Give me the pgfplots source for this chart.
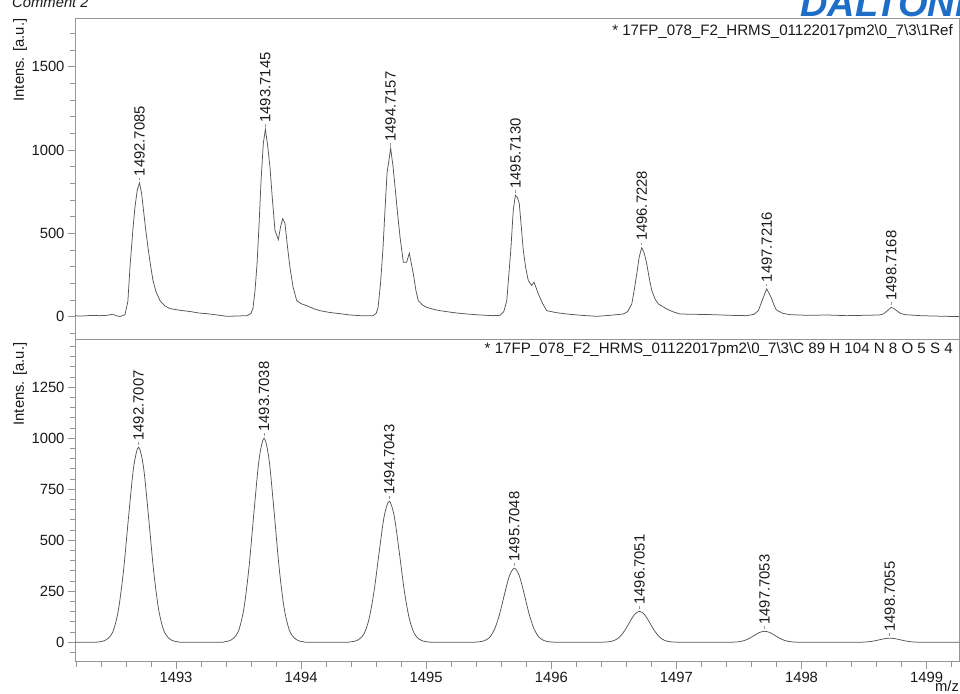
\documentclass[border=0pt]{standalone}
\usepackage{pgfplots}
\pgfplotsset{compat=1.18}
\usepackage{fontspec}
\setmainfont{Liberation Sans}
\definecolor{frame}{RGB}{150,150,150}
\definecolor{spec}{RGB}{85,85,85}
\definecolor{txt}{RGB}{25,25,25}
\definecolor{logo}{RGB}{30,110,200}
\newcommand{\fs}{\fontsize{14.8}{17}\selectfont}
\newcommand{\fh}{\fontsize{15.1}{17}\selectfont}
\newcommand{\pk}[3]{%
  \draw[frame,line width=0.6pt] ([yshift=2.5pt]axis cs:#1,#2) -- ([yshift=5pt]axis cs:#1,#2);
  \node[rotate=90, anchor=west, inner sep=0pt, font=\fs, text=txt] at ([yshift=6.5pt]axis cs:#1,#2) {#3};}
\pgfplotsset{specax/.style={
  scale only axis, width=884pt, xmin=1492.1926, xmax=1499.259,
  axis line style={frame, line width=0.8pt},
  tick style={frame, line width=0.8pt},
  tick align=outside, major tick length=7pt, minor tick length=5pt,
  ytick pos=left, scaled ticks=false,
  tick label style={font=\fs, text=txt},
  /pgf/number format/assume math mode=true,
  /pgf/number format/1000 sep={},
}}
\begin{document}
\begin{tikzpicture}[x=1pt,y=1pt]
\path[use as bounding box] (0pt,0pt) rectangle (960pt,693pt);
\clip (0pt,0pt) rectangle (960pt,693pt);

% ---------- top: measured spectrum ----------
\begin{axis}[specax, at={(75pt,354pt)}, anchor=south west, height=321pt,
  ymin=-134, ymax=1792, ytick={0,500,1000,1500},
  minor ytick={-100,100,200,300,400,600,700,800,900,1100,1200,1300,1400,1600,1700},
  xtick=\empty]
\addplot[spec, line width=0.75pt] coordinates {
(1492.193,5) (1492.25,4) (1492.32,7) (1492.392,6) (1492.45,8) (1492.496,15) (1492.52,6)
(1492.552,1) (1492.592,12) (1492.615,90) (1492.632,295) (1492.655,520) (1492.672,657)
(1492.69,760) (1492.7085,803) (1492.725,740) (1492.740,640) (1492.758,520) (1492.776,416)
(1492.796,310) (1492.816,217) (1492.84,150) (1492.872,96) (1492.91,65) (1492.952,48)
(1493.0,42) (1493.056,36) (1493.12,30) (1493.18,22) (1493.248,18) (1493.33,10)
(1493.408,2) (1493.49,4) (1493.568,6) (1493.600,20) (1493.616,54) (1493.632,160)
(1493.648,319) (1493.665,570) (1493.680,819) (1493.698,1040) (1493.7145,1125)
(1493.732,1030) (1493.751,898) (1493.771,700) (1493.791,518) (1493.818,462)
(1493.836,540) (1493.853,588) (1493.871,560) (1493.891,420) (1493.911,295)
(1493.935,180) (1493.965,96) (1494.0,78) (1494.045,66) (1494.1,48) (1494.151,36)
(1494.23,25) (1494.311,18) (1494.39,10) (1494.471,6) (1494.575,6) (1494.6,20)
(1494.615,54) (1494.635,200) (1494.655,416) (1494.672,660) (1494.687,861)
(1494.7157,1010) (1494.735,900) (1494.751,777) (1494.771,620) (1494.791,476)
(1494.817,327) (1494.844,327) (1494.865,381) (1494.897,257) (1494.917,160)
(1494.937,96) (1494.97,70) (1495.004,56) (1495.06,44) (1495.110,36) (1495.22,24)
(1495.324,16) (1495.43,10) (1495.534,6) (1495.590,8) (1495.62,30) (1495.644,96)
(1495.676,398) (1495.696,639) (1495.713,729) (1495.729,715) (1495.744,679)
(1495.76,540) (1495.776,398) (1495.796,290) (1495.816,217) (1495.843,187)
(1495.862,207) (1495.88,170) (1495.896,137) (1495.93,80) (1495.963,36) (1496.04,24)
(1496.123,16) (1496.24,8) (1496.363,2) (1496.47,8) (1496.576,16) (1496.61,30)
(1496.643,76) (1496.663,160) (1496.683,257) (1496.703,360) (1496.7228,414)
(1496.743,380) (1496.763,317) (1496.783,230) (1496.803,157) (1496.83,105)
(1496.856,76) (1496.923,46) (1496.97,30) (1497.029,16) (1497.15,14) (1497.293,12)
(1497.43,8) (1497.562,6) (1497.62,14) (1497.655,36) (1497.695,116) (1497.7216,167)
(1497.74,140) (1497.757,116) (1497.78,70) (1497.799,40) (1497.85,20) (1497.908,12)
(1498.05,8) (1498.2,10) (1498.362,6) (1498.5,8) (1498.62,10) (1498.654,16)
(1498.694,40) (1498.7168,56) (1498.74,48) (1498.761,36) (1498.79,20) (1498.828,12)
(1498.95,6) (1499.1,3) (1499.268,0)
};
\pk{1492.7085}{803}{1492.7085}
\pk{1493.7145}{1125}{1493.7145}
\pk{1494.7157}{1010}{1494.7157}
\pk{1495.7130}{729}{1495.7130}
\pk{1496.7228}{414}{1496.7228}
\pk{1497.7216}{167}{1497.7216}
\pk{1498.7168}{56}{1498.7168}
\end{axis}

% ---------- bottom: simulated pattern ----------
\begin{axis}[specax, at={(75pt,31.3pt)}, anchor=south west, height=322.7pt,
  ymin=-95, ymax=1486, ytick={0,250,500,750,1000,1250},
  minor ytick={-50,50,100,150,200,300,350,400,450,550,600,650,700,800,850,900,950,1050,1100,1150,1200,1300,1350,1400,1450},
  xtick={1493,1494,1495,1496,1497,1498,1499}, xtick pos=bottom,
  minor xtick={1492.2,1492.4,1492.6,1492.8,1493.2,1493.4,1493.6,1493.8,1494.2,1494.4,1494.6,1494.8,1495.2,1495.4,1495.6,1495.8,1496.2,1496.4,1496.6,1496.8,1497.2,1497.4,1497.6,1497.8,1498.2,1498.4,1498.6,1498.8,1499.2}]
\addplot[spec, line width=0.75pt, smooth] coordinates {
(1492.19,0) (1492.3407,0)
(1492.3807,1.9) (1492.4207,6.7) (1492.4607,21.0) (1492.5007,60.2) (1492.5407,162.5)
(1492.5807,352.8) (1492.6207,613.8) (1492.6607,855.6) (1492.7007,956) (1492.7407,855.6)
(1492.7807,613.8) (1492.8207,352.8) (1492.8607,162.5) (1492.9007,60.2) (1492.9407,21.0)
(1492.9807,6.7) (1493.0207,1.9) (1493.0607,0) (1493.3438,0)
(1493.3838,2) (1493.4238,7) (1493.4638,22) (1493.5038,63) (1493.5438,170) (1493.5838,369)
(1493.6238,642) (1493.6638,895) (1493.7038,1000) (1493.7438,895) (1493.7838,642)
(1493.8238,369) (1493.8638,170) (1493.9038,63) (1493.9438,22) (1493.9838,7) (1494.0238,2)
(1494.0638,0) (1494.3443,0)
(1494.3843,1.4) (1494.4243,4.8) (1494.4643,15.2) (1494.5043,43.5) (1494.5443,117.5)
(1494.5843,255.0) (1494.6243,443.6) (1494.6643,618.4) (1494.7043,691) (1494.7443,618.4)
(1494.7843,443.6) (1494.8243,255.0) (1494.8643,117.5) (1494.9043,43.5) (1494.9443,15.2)
(1494.9843,4.8) (1495.0243,1.4) (1495.0643,0) (1495.3448,0)
(1495.3848,0.7) (1495.4248,2.5) (1495.4648,8.0) (1495.5048,22.9) (1495.5448,61.7)
(1495.5848,133.9) (1495.6248,233.0) (1495.6648,324.9) (1495.7048,363) (1495.7448,324.9)
(1495.7848,233.0) (1495.8248,133.9) (1495.8648,61.7) (1495.9048,22.9) (1495.9448,8.0)
(1495.9848,2.5) (1496.0248,0.7) (1496.0648,0) (1496.3451,0)
(1496.3851,0.3) (1496.4251,1.1) (1496.4651,3.3) (1496.5051,9.6) (1496.5451,25.8)
(1496.5851,56.1) (1496.6251,97.6) (1496.6651,136.0) (1496.7051,152) (1496.7451,136.0)
(1496.7851,97.6) (1496.8251,56.1) (1496.8651,25.8) (1496.9051,9.6) (1496.9451,3.3)
(1496.9851,1.1) (1497.0251,0.3) (1497.0651,0) (1497.3453,0)
(1497.3853,0.1) (1497.4253,0.4) (1497.4653,1.2) (1497.5053,3.4) (1497.5453,9.2)
(1497.5853,19.9) (1497.6253,34.7) (1497.6653,48.3) (1497.7053,54) (1497.7453,48.3)
(1497.7853,34.7) (1497.8253,19.9) (1497.8653,9.2) (1497.9053,3.4) (1497.9453,1.2)
(1497.9853,0.4) (1498.0253,0.1) (1498.0653,0) (1498.3855,0)
(1498.4255,0.1) (1498.4655,0.4) (1498.5055,1.3) (1498.5455,3.4) (1498.5855,7.4)
(1498.6255,12.8) (1498.6655,17.9) (1498.7055,20) (1498.7455,17.9) (1498.7855,12.8)
(1498.8255,7.4) (1498.8655,3.4) (1498.9055,1.3) (1498.9455,0.4) (1498.9855,0.1)
(1499.0255,0) (1499.26,0)
};
\pk{1492.7007}{956}{1492.7007}
\pk{1493.7038}{1000}{1493.7038}
\pk{1494.7043}{691}{1494.7043}
\pk{1495.7048}{363}{1495.7048}
\pk{1496.7051}{152}{1496.7051}
\pk{1497.7053}{54}{1497.7053}
\pk{1498.7055}{20}{1498.7055}
\end{axis}

% ---------- texts ----------
\node[anchor=east, inner sep=0pt, font=\fh, text=txt] at (953pt,661pt)
  {* 17FP\_078\_F2\_HRMS\_01122017pm2\textbackslash 0\_7\textbackslash 3\textbackslash 1Ref};
\node[anchor=east, inner sep=0pt, font=\fh, text=txt] at (953pt,343pt)
  {* 17FP\_078\_F2\_HRMS\_01122017pm2\textbackslash 0\_7\textbackslash 3\textbackslash C 89 H 104 N 8 O 5 S 4};
\node[rotate=90, inner sep=0pt, font=\fs, text=txt] at (20pt,633pt) {Intens. [a.u.]};
\node[rotate=90, inner sep=0pt, font=\fs, text=txt] at (20pt,309pt) {Intens. [a.u.]};
\node[anchor=base, inner sep=0pt, font=\fs, text=txt] at (947pt,1.5pt) {m/z};
\node[anchor=base west, inner sep=0pt, font=\fs\itshape, text=txt] at (12pt,685pt) {Comment 2};
\node[anchor=base west, inner sep=0pt, font=\fontsize{38}{38}\selectfont\bfseries\itshape, text=logo] at (800pt,676pt) {DALTONICS};
\end{tikzpicture}
\end{document}
